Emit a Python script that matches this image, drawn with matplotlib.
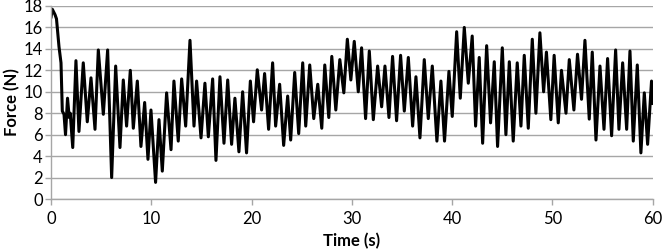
import matplotlib
matplotlib.use('Agg')
import matplotlib.pyplot as plt

# peaks and troughs (time in s, force in N)
time_s = [
    0.00, 0.13, 0.40, 0.55, 0.80, 1.00, 1.13, 1.30, 1.45, 1.65, 1.82, 1.92,
    2.17, 2.49, 2.79, 3.22, 3.62, 3.99, 4.39, 4.72, 5.22, 5.65, 6.05, 6.45,
    6.88, 7.21, 7.54, 7.91, 8.21, 8.61, 8.97, 9.34, 9.67, 9.97, 10.43, 10.77,
    11.10, 11.53, 11.97, 12.26, 12.69, 13.03, 13.43, 13.86, 14.26, 14.52, 14.96, 15.35,
    15.69, 16.12, 16.45, 16.85, 17.25, 17.62, 18.01, 18.34, 18.74, 19.11, 19.50, 19.88,
    20.20, 20.57, 21.00, 21.30, 21.70, 22.10, 22.40, 22.80, 23.20, 23.60, 23.90, 24.30,
    24.70, 25.10, 25.40, 25.80, 26.20, 26.60, 27.00, 27.30, 27.70, 28.00, 28.40, 28.80,
    29.20, 29.55, 29.90, 30.24, 30.64, 30.97, 31.37, 31.74, 32.14, 32.57, 32.97, 33.30,
    33.70, 34.06, 34.46, 34.86, 35.23, 35.63, 36.06, 36.39, 36.79, 37.22, 37.62, 38.02,
    38.48, 38.88, 39.24, 39.68, 40.01, 40.45, 40.81, 41.21, 41.61, 42.00, 42.34, 42.70,
    43.04, 43.44, 43.83, 44.20, 44.53, 45.00, 45.36, 45.70, 46.09, 46.49, 46.86, 47.19,
    47.59, 47.99, 48.35, 48.75, 49.12, 49.40, 49.84, 50.17, 50.58, 50.90, 51.35, 51.68,
    52.14, 52.50, 52.90, 53.24, 53.67, 53.97, 54.34, 54.74, 55.14, 55.50, 55.90, 56.30,
    56.63, 57.00, 57.40, 57.73, 58.06, 58.46, 58.82, 59.16, 59.49, 59.88, 60.00,
]
force_n = [
    16.9, 17.7, 17.2, 16.8, 14.2, 12.7, 8.2, 7.9, 6.0, 9.4, 7.6, 8.0,
    4.8, 12.9, 6.3, 12.7, 7.2, 11.3, 6.5, 13.9, 7.9, 13.9, 2.0, 12.4,
    4.8, 11.1, 6.8, 12.0, 6.6, 11.0, 4.9, 9.0, 3.7, 8.3, 1.55, 7.4,
    2.6, 9.9, 4.6, 11.0, 5.4, 11.2, 6.8, 14.8, 6.8, 11.0, 5.7, 10.8,
    5.8, 11.2, 3.6, 11.4, 5.2, 11.1, 5.1, 9.4, 4.4, 10.0, 4.3, 11.0,
    7.2, 12.05, 8.3, 11.7, 6.5, 12.7, 6.8, 10.7, 5.0, 9.6, 5.5, 11.8,
    6.1, 12.7, 6.8, 12.5, 7.5, 10.7, 6.6, 12.5, 7.6, 13.3, 8.3, 13.0,
    9.9, 14.9, 11.1, 14.7, 10.0, 14.1, 7.5, 13.8, 7.4, 12.4, 8.6, 12.4,
    7.6, 13.3, 7.3, 13.4, 8.2, 13.2, 6.8, 11.4, 5.7, 13.0, 7.5, 12.4,
    5.4, 11.0, 5.4, 11.9, 7.7, 15.6, 9.4, 16.0, 10.8, 15.2, 6.8, 13.2,
    5.2, 14.3, 7.1, 12.8, 4.9, 14.1, 6.0, 12.8, 5.4, 12.7, 6.8, 13.4,
    6.6, 14.9, 8.0, 15.5, 10.0, 13.7, 7.4, 13.4, 7.1, 12.0, 8.0, 13.0,
    8.3, 13.5, 9.3, 14.8, 7.45, 13.7, 5.5, 12.4, 6.5, 13.1, 5.9, 13.9,
    6.5, 12.7, 6.5, 13.8, 5.4, 12.5, 4.3, 9.9, 5.1, 11.0, 8.9,
]

x_ticks = [0, 10, 20, 30, 40, 50, 60]
y_ticks = [0, 2, 4, 6, 8, 10, 12, 14, 16, 18]

plt.rcParams['font.family'] = ['Lato', 'DejaVu Sans']

fig = plt.figure(figsize=(6.62, 2.50), dpi=100)
ax = fig.add_axes([0.077, 0.204, 0.909, 0.772])

ax.plot(time_s, force_n, color='black', linewidth=2.2,
        solid_joinstyle='round', solid_capstyle='round')

ax.set_xlim(0, 60)
ax.set_ylim(0, 18)
ax.set_xticks(x_ticks)
ax.set_yticks(y_ticks)

grid_grey = '#a6a6a6'
ax.yaxis.grid(True, color=grid_grey, linewidth=1.0)
ax.set_axisbelow(True)
for side in ['top', 'right']:
    ax.spines[side].set_visible(False)
for side in ['left', 'bottom']:
    ax.spines[side].set_color(grid_grey)
    ax.spines[side].set_linewidth(1.0)

ax.tick_params(axis='both', colors=grid_grey, length=4, width=1.0,
               labelcolor='black', labelsize=12, pad=2)
ax.tick_params(axis='x', pad=5)

ax.set_xlabel('Time (s)', fontsize=12, fontweight='bold', labelpad=4)
ax.set_ylabel('Force (N)', fontsize=12, fontweight='bold', labelpad=2)

fig.savefig('out.png', dpi=100)
